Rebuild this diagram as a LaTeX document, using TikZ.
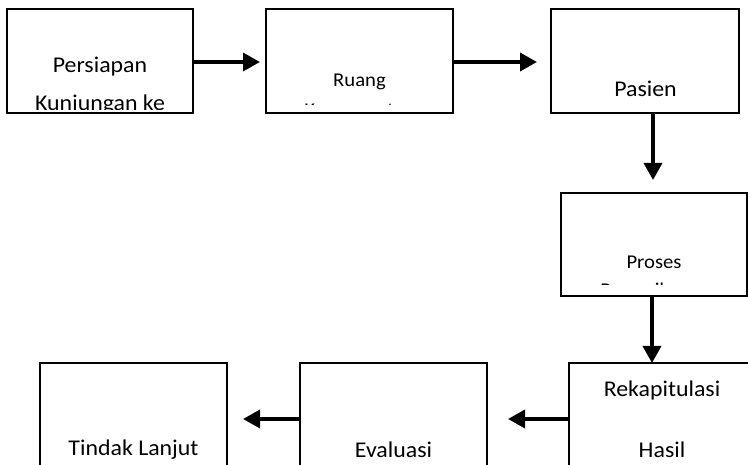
\documentclass[tikz,border=0pt]{standalone}
\usepackage{fontspec}
\setmainfont{Carlito}[FakeStretch=1.06]
\usetikzlibrary{arrows.meta}
\begin{document}
\begin{tikzpicture}[x=1pt,y=-1pt,
  box/.style={draw=black,line width=1.5pt,fill=white,inner sep=0pt},
  big/.style={anchor=base,inner sep=0pt,font=\fontsize{22.5}{27}\selectfont},
  small/.style={anchor=base,inner sep=0pt,font=\fontsize{19.5}{24}\selectfont},
  arr/.style={line width=3.5pt,-{Triangle[length=17pt,width=18pt]}}]
\useasboundingbox (0,0) rectangle (748,465);
\clip (0,0) rectangle (748,465);

% process boxes
\node[box,minimum width=186pt,minimum height=104pt] (b1) at (100,61) {};
\node[box,minimum width=187pt,minimum height=104pt] (b2) at (359.5,61) {};
\node[box,minimum width=188pt,minimum height=104pt] (b3) at (645,61) {};
\node[box,minimum width=186pt,minimum height=103pt] (b4) at (654,244.5) {};
\node[box,minimum width=186pt,minimum height=104pt] (b5) at (662,415) {};
\node[box,minimum width=187pt,minimum height=104pt] (b6) at (393.5,415) {};
\node[box,minimum width=187pt,minimum height=104pt] (b7) at (133.5,415) {};

% labels (overflowing lines are cut off by the box)
\node[big] (t1) at (100,73) {Persiapan};
\begin{scope}
  \clip (b1.north west) rectangle (193,110);
  \node[big] (t1b) at (100,111) {Kunjungan ke};
\end{scope}
\node[small] (t2) at (359.5,87) {Ruang};
\begin{scope}
  \clip (b2.north west) rectangle (453,104.5);
  \node[small] (t2b) at (359.5,117) {Keperawatan};
\end{scope}
\node[big] (t3) at (645.5,97) {Pasien};
\node[small] (t4) at (654,269) {Proses};
\begin{scope}
  \clip (b4.north west) rectangle (747,285);
  \node[small] (t4b) at (654,297) {Pemeriksaan};
\end{scope}
\node[big] (t5) at (662,397) {Rekapitulasi};
\node[big] (t5b) at (662,457) {Hasil};
\node[big] (t6) at (393.5,457) {Evaluasi};
\node[big] (t7) at (133.5,456) {Tindak Lanjut};

% arrow tips
\coordinate (h1) at (260,62);
\coordinate (h2) at (537,62);
\coordinate (h3) at (653,180);
\coordinate (h4) at (652,363);
\coordinate (h5) at (508,419);
\coordinate (h6) at (243,419);

% connectors
\draw[arr] (b1.east |- h1) -- (h1);
\draw[arr] (b2.east |- h2) -- (h2);
\draw[arr] (b3.south -| h3) -- (h3);
\draw[arr] (b4.south -| h4) -- (h4);
\draw[arr] (b5.west |- h5) -- (h5);
\draw[arr] (b6.west |- h6) -- (h6);
\end{tikzpicture}
\end{document}
